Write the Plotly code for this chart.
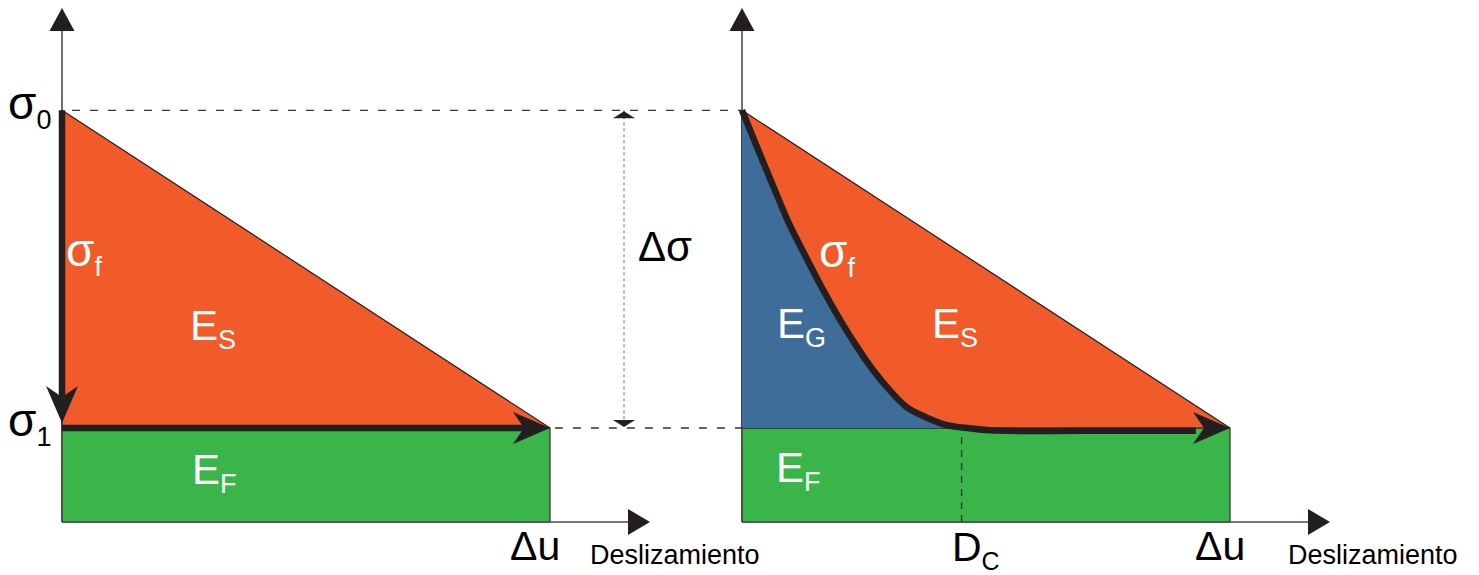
import plotly.graph_objects as go

# ─── data (slip normalised to Δu, stress in units of σ1) ───
sigma_0 = 4.38
sigma_1 = 1.0
delta_u = 1.0
d_c = 0.45

# slip-weakening curve of the right panel
curve_slip = [0.0, 0.033, 0.061, 0.096, 0.131, 0.166, 0.201, 0.236, 0.268,
              0.303, 0.338, 0.379, 0.420, 0.461, 0.508, 0.700, 0.930]
curve_stress = [4.38, 3.96, 3.61, 3.18, 2.82, 2.47, 2.15, 1.86, 1.62,
                1.40, 1.22, 1.11, 1.03, 1.00, 0.975, 0.97, 0.97]

# ─── colours ───
C = {
    'orange': '#f15a29',
    'green':  '#39b54a',
    'blue':   '#3f6d99',
    'black':  '#231f20',
    'axis':   '#4d4d4d',
    'dash':   '#333333',
}

W, H = 1479, 575
# pixel layout: origin of each panel and scale
X0_L, X0_R, Y0 = 62, 742, 522
SX, SY = 488, 94


def lx(px):
    return (px - X0_L) / SX


def rx(px):
    return (px - X0_R) / SX


def yy(py):
    return (Y0 - py) / SY


FONT = "Arial, Liberation Sans, sans-serif"

fig = go.Figure()


def line(x, y, axis='x', color=C['black'], width=1.2, dash=None, shape='linear'):
    fig.add_trace(go.Scatter(
        x=x, y=y, mode='lines', xaxis=axis, yaxis='y',
        line=dict(color=color, width=width, dash=dash, shape=shape),
        hoverinfo='skip', showlegend=False,
    ))


def poly(x, y, axis, fill, lcolor=None, lwidth=0):
    fig.add_trace(go.Scatter(
        x=x, y=y, mode='lines', xaxis=axis, yaxis='y', fill='toself',
        fillcolor=fill, line=dict(color=lcolor or fill, width=lwidth),
        hoverinfo='skip', showlegend=False,
    ))


x_tip = lx(628)
for ax in ('x', 'x2'):
    # axes
    line([0, 0], [0, yy(30)], ax, C['axis'], 1.6)
    line([0, x_tip], [0, 0], ax, C['axis'], 1.6)
    # frictional energy E_F
    poly([0, delta_u, delta_u, 0, 0], [0, 0, sigma_1, sigma_1, 0], ax,
         C['green'], C['dash'], 1.2)
    # stress drop triangle
    poly([0, delta_u, 0, 0], [sigma_0, sigma_1, sigma_1, sigma_0], ax,
         C['orange'], C['black'], 1.2)

# left panel: instantaneous drop then constant friction
line([0, 0], [sigma_0, sigma_1 + 0.3], 'x', C['black'], 6.5)
line([0, delta_u - 0.05], [sigma_1, sigma_1], 'x', C['black'], 6.5)

# right panel: fracture energy E_G under the weakening curve
n_g = sum(1 for s in curve_stress if s >= sigma_1)
blue_x = [0] + curve_slip[:n_g]
blue_y = [sigma_1] + curve_stress[:n_g]
poly(blue_x, blue_y, 'x2', C['blue'])
line(curve_slip, curve_stress, 'x2', C['black'], 6.5, shape='spline')
line([d_c, d_c], [0, sigma_1], 'x2', C['dash'], 1.3, '7px,6px')

# guide lines
x2_off = (X0_R - X0_L) / SX
line([lx(72), x2_off], [sigma_0, sigma_0], 'x', C['dash'], 1.3, '8px,10px')
line([delta_u + 0.01, x2_off], [sigma_1, sigma_1], 'x', C['dash'], 1.3, '8px,10px')
x_ds = lx(624)
line([x_ds, x_ds], [sigma_0, sigma_1], 'x', '#8a8a8a', 1.2, 'dot')

shapes = []


def path(ref, pts):
    d = 'M' + ' L'.join(f"{x},{y}" for x, y in pts) + ' Z'
    shapes.append(dict(type='path', xref=ref, yref='y', path=d,
                       fillcolor=C['black'], line=dict(width=0)))


for ref in ('x', 'x2'):
    # y-axis arrow head
    path(ref, [(0, yy(8)), (-12.5 / SX, yy(31)), (12.5 / SX, yy(31))])
    # x-axis arrow head
    tip = lx(650)
    path(ref, [(tip, 0), (tip - 22 / SX, 13 / SY), (tip - 22 / SX, -13 / SY)])

# Δσ arrow heads
path('x', [(x_ds, sigma_0 - 1 / SY), (x_ds - 11 / SX, sigma_0 - 8 / SY),
           (x_ds + 11 / SX, sigma_0 - 8 / SY)])
path('x', [(x_ds, sigma_1 + 1 / SY), (x_ds - 11 / SX, sigma_1 + 8 / SY),
           (x_ds + 11 / SX, sigma_1 + 8 / SY)])


def barb_right(ref, x, y):
    path(ref, [(x, y), (x - 37 / SX, y + 16 / SY), (x - 26 / SX, y),
               (x - 37 / SX, y - 16 / SY)])


def barb_down(ref, x, y):
    path(ref, [(x, y), (x - 16 / SX, y + 37 / SY), (x, y + 26 / SY),
               (x + 16 / SX, y + 37 / SY)])


barb_down('x', 0, sigma_1 + 5 / SY)
barb_right('x', delta_u, sigma_1)
barb_right('x2', delta_u, sigma_1)


def sub(main, s, size=27):
    return f'{main}<sub><span style="font-size:{size}px">{s}</span></sub>'


labels = [
    (sub('σ', '0'), 6, 106, 'black', 46),
    (sub('σ', '1'), 6, 423, 'black', 46),
    (sub('σ', 'f'), 64, 253, 'white', 46),
    (sub('E', 'S'), 188, 328, 'white', 42),
    (sub('E', 'F'), 190, 472, 'white', 42),
    ('Δσ', 636, 247, 'black', 42),
    ('Δu', 508, 546, 'black', 41),
    ('Deslizamiento', 588, 555, 'black', 27),
    (sub('σ', 'f'), 817, 254, 'white', 46),
    (sub('E', 'G'), 775, 326, 'white', 42),
    (sub('E', 'S'), 930, 326, 'white', 42),
    (sub('E', 'F'), 774, 470, 'white', 42),
    (sub('D', 'C', 25), 950, 549, 'black', 41),
    ('Δu', 1193, 546, 'black', 41),
    ('Deslizamiento', 1286, 555, 'black', 27),
]
annotations = []
for txt, px, py, col, size in labels:
    annotations.append(dict(
        x=px / W, y=1 - py / H, xref='paper', yref='paper',
        xanchor='left', yanchor='middle', text=txt, showarrow=False,
        font=dict(family=FONT, size=size, color=col),
    ))

hidden = dict(visible=False, showgrid=False, zeroline=False, fixedrange=True)
fig.update_layout(
    width=W, height=H,
    margin=dict(l=0, r=0, t=0, b=0),
    paper_bgcolor='white', plot_bgcolor='white',
    xaxis=dict(range=[lx(0), lx(W)], domain=[0, 1], **hidden),
    xaxis2=dict(range=[rx(0), rx(W)], domain=[0, 1], overlaying='x',
                anchor='y', **hidden),
    yaxis=dict(range=[yy(H), yy(0)], domain=[0, 1], **hidden),
    shapes=shapes,
    annotations=annotations,
    showlegend=False,
)

fig.write_html("out.html", config={'displayModeBar': False},
               post_script="document.body.style.margin='0px';")
